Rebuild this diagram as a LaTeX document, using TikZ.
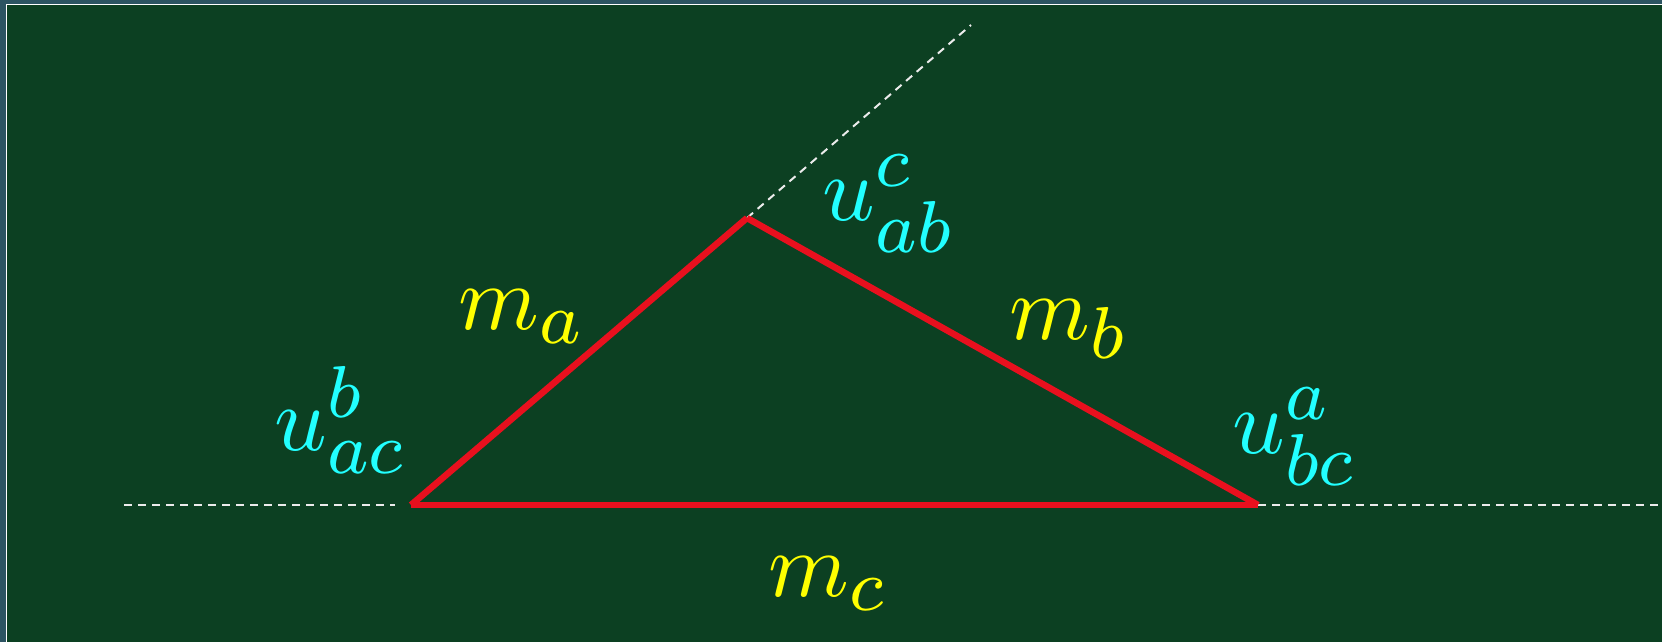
\documentclass[tikz,border=0pt]{standalone}
\usepackage{amsmath}
\usepackage{tikz}
\usetikzlibrary{positioning}
\DeclareMathSizes{10}{10}{8}{6}

\definecolor{board}{RGB}{12,64,34}
\definecolor{boardedge}{RGB}{44,84,98}
\definecolor{sidered}{RGB}{232,16,30}
\definecolor{masscol}{RGB}{255,255,0}
\definecolor{anglecol}{RGB}{34,255,255}

\tikzset{
  side/.style={sidered, line width=6.5pt},
  guide/.style={white!85!gray, line width=2pt, dash pattern=on 8pt off 6pt},
  masslabel/.style={masscol, scale=9.2},
  anglelabel/.style={anglecol, scale=9.2}
}

\begin{document}
\begin{tikzpicture}[x=1pt, y=-1pt]
    \useasboundingbox (0,0) rectangle (1662,642);

    % Draw the board
    \fill[boardedge] (0,0) rectangle (1662,642);
    \fill[board] (6,4) rectangle (1662,642);
    \draw[white, line width=1.5pt] (6.5,642) -- (6.5,4.5) -- (1662,4.5);

    % Draw the corners
    \coordinate (A) at (411,505);
    \coordinate (C) at (747,218);
    \coordinate (B) at (1258,505);
    \coordinate (leftend) at (124,505);
    \coordinate (rightend) at (1662,505);
    \coordinate (topend) at (971,25);

    % Draw the dashed guides
    \draw[guide] (leftend) -- ([xshift=-16pt]A);
    \draw[guide] (B) -- (rightend);
    \draw[guide] (C) -- (topend);

    % Draw the red sides
    \draw[side] (A) -- (C);
    \draw[side] (C) -- (B);
    \draw[side] (A) -- (B);

    % Draw the masses
    \node[masslabel] (ma) at (522,317) {$m_a$};
    \node[masslabel] (mb) at (1069,329) {$m_b$};
    \node[masslabel] (mc) at (828,584) {$m_c$};

    % Draw the angles
    \node[anglelabel] (uab) at (889,204) {$u^c_{ab}$};
    \node[anglelabel] (uac) at (341,420) {$u^b_{ac}$};
    \node[anglelabel] (ubc) at (1295,437) {$u^a_{bc}$};
\end{tikzpicture}
\end{document}
